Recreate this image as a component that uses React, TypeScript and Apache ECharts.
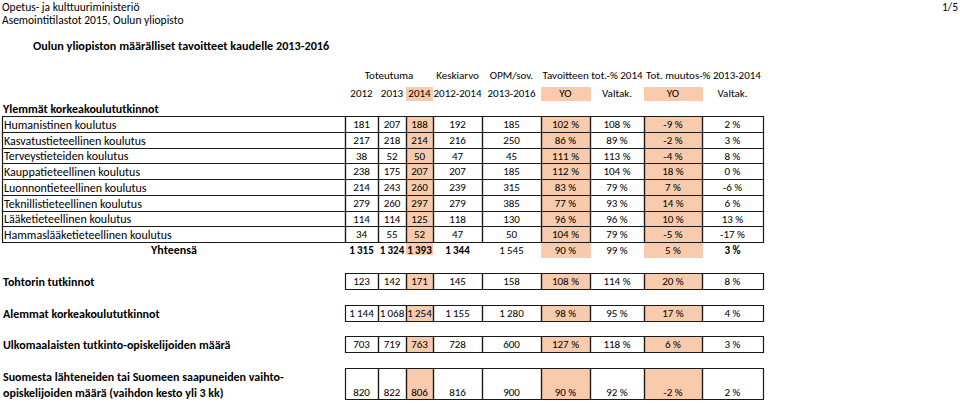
import React, { useEffect, useRef } from "react";
import * as echarts from "echarts";

// ---------- data ----------
const pageHeader = ["Opetus- ja kulttuuriministeriö", "Asemointitilastot 2015, Oulun yliopisto"];
const pageNumber = "1/5";
const mainTitle = "Oulun yliopiston määrälliset tavoitteet kaudelle 2013-2016";
const sectionTitle = "Ylemmät korkeakoulututkinnot";
const totalLabel = "Yhteensä";

const groupHeaders = ["Toteutuma", "Keskiarvo", "OPM/sov.", "Tavoitteen tot.-% 2014", "Tot. muutos-% 2013-2014"];
const columnHeaders = ["2012", "2013", "2014", "2012-2014", "2013-2016", "YO", "Valtak.", "YO", "Valtak."];

const categories = [
  "Humanistinen koulutus",
  "Kasvatustieteellinen koulutus",
  "Terveystieteiden koulutus",
  "Kauppatieteellinen koulutus",
  "Luonnontieteellinen koulutus",
  "Teknillistieteellinen koulutus",
  "Lääketieteellinen koulutus",
  "Hammaslääketieteellinen koulutus",
];
const v2012 = [181, 217, 38, 238, 214, 279, 114, 34];
const v2013 = [207, 218, 52, 175, 243, 260, 114, 55];
const v2014 = [188, 214, 50, 207, 260, 297, 125, 52];
const avg20122014 = [192, 216, 47, 207, 239, 279, 118, 47];
const opm20132016 = [185, 250, 45, 185, 315, 385, 130, 50];
const tavoiteYO = [102, 86, 111, 112, 83, 77, 96, 104];
const tavoiteValtak = [108, 89, 113, 104, 79, 93, 96, 79];
const muutosYO = [-9, -2, -4, 18, 7, 14, 10, -5];
const muutosValtak = [2, 3, 8, 0, -6, 6, 13, -17];

const totals = [1315, 1324, 1393, 1344, 1545, 90, 99, 5, 3];
const totalsBold = [true, true, true, true, false, false, false, false, true];

const extraLabels = [
  "Tohtorin tutkinnot",
  "Alemmat korkeakoulututkinnot",
  "Ulkomaalaisten tutkinto-opiskelijoiden määrä",
  "Suomesta lähteneiden tai Suomeen saapuneiden vaihto-\nopiskelijoiden määrä (vaihdon kesto yli 3 kk)",
];
const tohtorin = [123, 142, 171, 145, 158, 108, 114, 20, 8];
const alemmat = [1144, 1068, 1254, 1155, 1280, 98, 95, 17, 4];
const ulkomaalaiset = [703, 719, 763, 728, 600, 127, 118, 6, 3];
const vaihto = [820, 822, 806, 816, 900, 90, 92, -2, 2];
const extraValues = [tohtorin, alemmat, ulkomaalaiset, vaihto];

// ---------- layout & style ----------
const FONT = 'Carlito, Lato, "Open Sans", sans-serif';
const FS_LABEL = 12;
const FS_NUM = 11;
const FS_HEAD = 11;
const HL = "#F8CBAD";
const LINE = "#1a1a1a";
const COL_EDGES = [345, 378, 406, 433, 482, 541, 590, 644, 702, 763];
const LABEL_LEFT = 2;
const HL_COLS = [2, 5, 7];
const PCT_FROM = 5;
const GROUP_SPANS = [[0, 3], [3, 4], [4, 5], [5, 7], [7, 9]];

type Cell = {
  x0: number; x1: number; y0: number; y1: number;
  text: string; fill: string | null; border: boolean; bold: boolean;
  align: "left" | "center"; tx: number; ty: number; size: number;
};

const fmtNum = (v: number) => {
  const s = Math.abs(v).toString().replace(/\B(?=(\d{3})+(?!\d))/g, "\u2009");
  return (v < 0 ? "-" : "") + s;
};
const fmtCell = (v: number, col: number) => (col >= PCT_FROM ? `${v} %` : fmtNum(v));

function buildCells(): Cell[] {
  const cells: Cell[] = [];
  const add = (c: Partial<Cell>) =>
    cells.push({
      x0: 0, x1: 0, y0: 0, y1: 0, text: "", fill: null, border: false, bold: false,
      align: "center", tx: 0, ty: 0, size: FS_NUM, ...c,
    } as Cell);

  // group headers
  GROUP_SPANS.forEach(([a, b], i) => {
    add({ text: groupHeaders[i], tx: (COL_EDGES[a] + COL_EDGES[b]) / 2, ty: 75.5, size: FS_HEAD });
  });
  // column headers
  columnHeaders.forEach((h, c) => {
    const hl = HL_COLS.includes(c);
    add({
      x0: COL_EDGES[c], x1: COL_EDGES[c + 1] - (c === 2 ? 1 : 0), y0: 87, y1: 100,
      fill: hl ? HL : null, text: h, tx: (COL_EDGES[c] + COL_EDGES[c + 1]) / 2, ty: 93.5, size: FS_HEAD,
    });
  });
  add({ text: sectionTitle, align: "left", tx: 3, ty: 108.5, bold: true, size: FS_LABEL });

  // main rows
  const rowH = 15.75;
  categories.forEach((name, i) => {
    const y0 = Math.round(116 + i * rowH);
    const y1 = Math.round(116 + (i + 1) * rowH);
    add({ x0: LABEL_LEFT, x1: COL_EDGES[0], y0, y1, border: true, text: name, align: "left", tx: 4, ty: (y0 + y1) / 2 + 0.5, size: FS_LABEL });
    const vals = [v2012[i], v2013[i], v2014[i], avg20122014[i], opm20132016[i], tavoiteYO[i], tavoiteValtak[i], muutosYO[i], muutosValtak[i]];
    vals.forEach((v, c) => {
      add({
        x0: COL_EDGES[c], x1: COL_EDGES[c + 1], y0, y1, border: true,
        fill: HL_COLS.includes(c) ? HL : null, text: fmtCell(v, c),
        tx: (COL_EDGES[c] + COL_EDGES[c + 1]) / 2, ty: (y0 + y1) / 2 + 0.5,
      });
    });
  });

  // totals
  add({ text: totalLabel, tx: 174, ty: 250, bold: true, size: FS_LABEL });
  totals.forEach((v, c) => {
    const hl = HL_COLS.includes(c);
    add({
      x0: COL_EDGES[c], x1: COL_EDGES[c + 1] - (c === 2 ? 1 : 0), y0: 242, y1: c === 2 ? 254 : 257,
      fill: hl ? HL : null, text: fmtCell(v, c), bold: totalsBold[c],
      tx: (COL_EDGES[c] + COL_EDGES[c + 1]) / 2, ty: 250,
    });
  });

  // extra rows
  const extraBoxes = [[273, 289], [305, 321], [336, 352], [368, 399]];
  extraLabels.forEach((lab, r) => {
    const [y0, y1] = extraBoxes[r];
    const twoLine = lab.includes("\n");
    if (twoLine) {
      lab.split("\n").forEach((line, k) => add({ text: line, align: "left", tx: 3, ty: 377 + k * 15.5, bold: true, size: FS_LABEL }));
    } else {
      add({ text: lab, align: "left", tx: 3, ty: (y0 + y1) / 2 + 0.5, bold: true, size: FS_LABEL });
    }
    extraValues[r].forEach((v, c) => {
      add({
        x0: COL_EDGES[c], x1: COL_EDGES[c + 1], y0, y1, border: true,
        fill: HL_COLS.includes(c) ? HL : null, text: fmtCell(v, c),
        tx: (COL_EDGES[c] + COL_EDGES[c + 1]) / 2, ty: twoLine ? 392.5 : (y0 + y1) / 2 + 0.5,
      });
    });
  });
  return cells;
}

export default function App() {
  const ref = useRef<HTMLDivElement>(null);
  useEffect(() => {
    if (!ref.current) return;
    const chart = echarts.init(ref.current, null, { renderer: "svg" });
    const cells = buildCells();
    const data = cells.map((_, i) => [i, 0]);

    const rectOf = (api: any, c: Cell) => {
      const p0 = api.coord([c.x0, c.y0]);
      const p1 = api.coord([c.x1, c.y1]);
      return { x: Math.round(p0[0]) + 0.5, y: Math.round(p0[1]) + 0.5, width: Math.round(p1[0]) - Math.round(p0[0]), height: Math.round(p1[1]) - Math.round(p0[1]) };
    };

    chart.setOption({
      animation: false,
      grid: { left: 0, right: 0, top: 0, bottom: 0 },
      xAxis: { type: "value", min: 0, max: 960, show: false },
      yAxis: { type: "value", min: 0, max: 403, inverse: true, show: false },
      graphic: [
        { type: "text", x: 2, y: 7, style: { text: pageHeader[0], font: `11.5px ${FONT}`, fill: "#000", verticalAlign: "middle" }, silent: true },
        { type: "text", x: 2, y: 20, style: { text: pageHeader[1], font: `11.5px ${FONT}`, fill: "#000", verticalAlign: "middle" }, silent: true },
        { type: "text", x: 958, y: 7, style: { text: pageNumber, font: `11.5px ${FONT}`, fill: "#000", align: "right", verticalAlign: "middle" }, silent: true },
        { type: "text", x: 33, y: 45.5, style: { text: mainTitle, font: `bold 12.2px ${FONT}`, fill: "#000", verticalAlign: "middle" }, silent: true },
      ],
      series: [
        {
          type: "custom",
          silent: true,
          clip: false,
          data,
          renderItem: (params: any, api: any) => {
            const c = cells[params.dataIndex];
            if (!c.fill) return { type: "group", children: [] };
            const r = rectOf(api, c);
            return { type: "rect", shape: { x: r.x - 0.5, y: r.y - 0.5, width: r.width + 1, height: r.height + 1 }, style: { fill: c.fill } };
          },
        },
        {
          type: "custom",
          silent: true,
          clip: false,
          data,
          renderItem: (params: any, api: any) => {
            const c = cells[params.dataIndex];
            const children: any[] = [];
            if (c.border) {
              const r = rectOf(api, c);
              children.push({ type: "rect", shape: r, style: { fill: "none", stroke: LINE, lineWidth: 1.2 } });
            }
            if (c.text) {
              const t = api.coord([c.tx, c.ty]);
              children.push({
                type: "text",
                style: {
                  text: c.text, x: t[0], y: t[1], align: c.align, verticalAlign: "middle",
                  fontFamily: FONT, fontSize: c.size, fontWeight: c.bold ? "bold" : "normal", fill: "#000",
                },
              });
            }
            return { type: "group", children };
          },
        },
      ],
    });
    return () => chart.dispose();
  }, []);
  return <div ref={ref} style={{ position: "absolute", left: 0, top: 0, width: 960, height: 403 }} />;
}
